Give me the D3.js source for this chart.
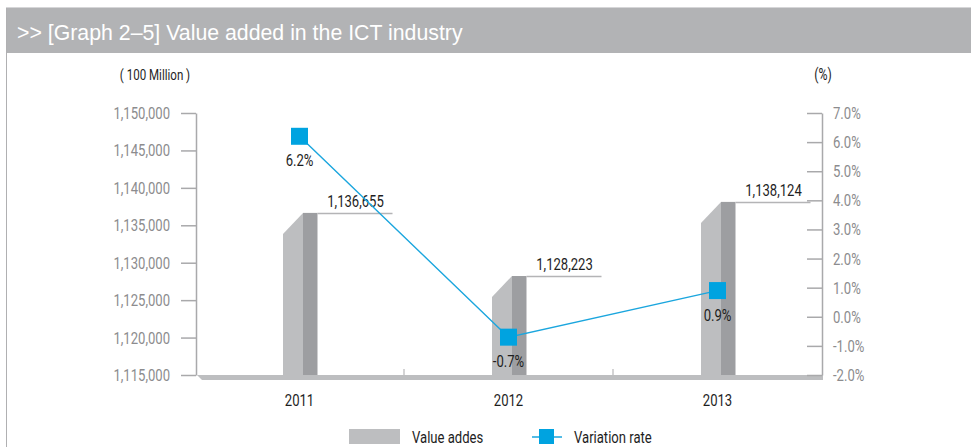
<!DOCTYPE html>
<html><head><meta charset="utf-8">
<script src="https://cdn.jsdelivr.net/npm/d3@7"></script>
<style>
html,body{margin:0;padding:0;background:#fff;}
svg{display:block;}
</style></head>
<body>
<svg id="chart" width="971" height="447"></svg>
<script>
const title = ">> [Graph 2\u20135] Value added in the ICT industry";
const years = ["2011", "2012", "2013"];
const valueAdded = [1136655, 1128223, 1138124];
const variationRate = [6.2, -0.7, 0.9];
const leftTicks = [1115000, 1120000, 1125000, 1130000, 1135000, 1140000, 1145000, 1150000];
const rightTicks = [-2, -1, 0, 1, 2, 3, 4, 5, 6, 7];
const leftUnit = "( 100 Million )";
const rightUnit = "(%)";
const legendLabels = ["Value addes", "Variation rate"];

const svg = d3.select("#chart");
const FONT = 'Roboto,"Liberation Sans",sans-serif';
const FS = 17;
const SX = 0.77; // horizontal condensing of text
const lightGray = "#bdbec0", darkGray = "#9d9ea1", blue = "#00a3e0", lineBlue = "#1ba6de";
const axisColor = "#a9a9ab", tickText = "#8c8c8e", txt = "#1e1e1e";

function label(g, x, y, s, opts = {}) {
  return g.append("text")
    .attr("transform", `translate(${x},${y}) scale(${opts.sx || SX},1)`)
    .attr("text-anchor", opts.anchor || "middle")
    .attr("fill", opts.fill || txt)
    .attr("font-family", FONT)
    .attr("font-size", opts.size || FS)
    .text(s);
}

// frame + title bar
svg.append("line").attr("x1", 6).attr("x2", 971).attr("y1", 7.5).attr("y2", 7.5).attr("stroke", "#d6d6d8");
svg.append("rect").attr("x", 6).attr("y", 8).attr("width", 965).attr("height", 45).attr("fill", "#b2b3b5");
svg.append("line").attr("x1", 6.5).attr("x2", 6.5).attr("y1", 8).attr("y2", 447).attr("stroke", "#b0b0b2");
svg.append("text").attr("x", 17).attr("y", 40).attr("fill", "#fff")
  .attr("font-family", '"Liberation Sans",Arial,sans-serif').attr("font-size", 21.3).text(title);

const x = d3.scaleBand().domain(years).range([195, 822]).padding(0);
const yL = d3.scaleLinear().domain([1115000, 1150000]).range([375, 113]);
const yR = d3.scaleLinear().domain([-2, 7]).range([375, 113]);
const cx = d => x(d) + x.bandwidth() / 2;

// base platform
const baseY = yL.domain()[0];
svg.append("path")
  .attr("d", `M${x.range()[0] + 2},${yL(baseY)} L${x.range()[1] + 1},${yL(baseY)} L${x.range()[1] + 1},${yL(baseY) + 5} L${x.range()[0] + 7},${yL(baseY) + 5} Z`)
  .attr("fill", lightGray);
years.slice(1).forEach(d => {
  svg.append("line").attr("x1", x(d)).attr("x2", x(d)).attr("y1", yL(baseY) - 6).attr("y2", yL(baseY))
    .attr("stroke", axisColor).attr("stroke-width", 1);
});

// left axis
const gL = svg.append("g").attr("transform", "translate(196,0)")
  .call(d3.axisLeft(yL).tickValues(leftTicks).tickFormat(d3.format(",")).tickSize(15).tickSizeOuter(0).tickPadding(11));
gL.select(".domain").attr("stroke", axisColor).attr("stroke-width", 1.5);
gL.selectAll(".tick line").attr("stroke", axisColor).attr("stroke-width", 1.5);
gL.selectAll(".tick text").attr("fill", tickText).attr("font-family", FONT).attr("font-size", FS)
  .attr("x", -26 / SX).attr("transform", `scale(${SX},1)`);

// right axis
const gR = svg.append("g").attr("transform", "translate(822,0)")
  .call(d3.axisRight(yR).tickValues(rightTicks).tickFormat(d => d.toFixed(1) + "%").tickSize(-15).tickSizeOuter(0).tickPadding(11));
gR.select(".domain").attr("stroke", axisColor).attr("stroke-width", 1.5);
gR.selectAll(".tick line").attr("stroke", axisColor).attr("stroke-width", 1.5);
gR.selectAll(".tick text").attr("fill", tickText).attr("font-family", FONT).attr("font-size", FS)
  .attr("x", 11 / SX).attr("transform", `scale(${SX},1)`);

// unit labels
label(svg, 155, 80, leftUnit, { size: 15 });
label(svg, 823, 80, rightUnit, { size: 16 });

// bars
const bars = svg.append("g");
years.forEach((yr, i) => {
  const c = cx(yr), top = yL(valueAdded[i]), bot = yL(baseY);
  bars.append("path")
    .attr("d", `M${c - 16.5},${bot} L${c - 16.5},${top + 21} L${c + 3.5},${top} L${c + 3.5},${bot} Z`)
    .attr("fill", lightGray);
  bars.append("rect").attr("x", c + 3.5).attr("y", top).attr("width", 14.5).attr("height", bot - top).attr("fill", darkGray);
  bars.append("line").attr("x1", c + 18).attr("x2", c + 93).attr("y1", top + 0.5).attr("y2", top + 0.5)
    .attr("stroke", "#b4b4b6").attr("stroke-width", 1.5);
  label(bars, c + 56, top - 6, d3.format(",")(valueAdded[i]));
});

// line
const pts = years.map((yr, i) => [cx(yr), yR(variationRate[i])]);
svg.append("path").attr("d", d3.line()(pts)).attr("fill", "none").attr("stroke", lineBlue).attr("stroke-width", 1.4);
svg.selectAll(".mk").data(pts).enter().append("rect")
  .attr("x", d => d[0] - 8.5).attr("y", d => d[1] - 8.5).attr("width", 17).attr("height", 17).attr("fill", blue);
years.forEach((yr, i) => {
  label(svg, cx(yr), yR(variationRate[i]) + 30, variationRate[i].toFixed(1) + "%");
});

// year labels
years.forEach(yr => label(svg, cx(yr), 406, yr));

// legend
svg.append("rect").attr("x", 349).attr("y", 429).attr("width", 51).attr("height", 15).attr("fill", lightGray);
label(svg, 412, 443, legendLabels[0], { anchor: "start" });
svg.append("line").attr("x1", 532).attr("x2", 562).attr("y1", 437).attr("y2", 437).attr("stroke", lineBlue).attr("stroke-width", 1.5);
svg.append("rect").attr("x", 539).attr("y", 429).attr("width", 15).attr("height", 15).attr("fill", blue);
label(svg, 574, 443, legendLabels[1], { anchor: "start" });
</script>
</body></html>
